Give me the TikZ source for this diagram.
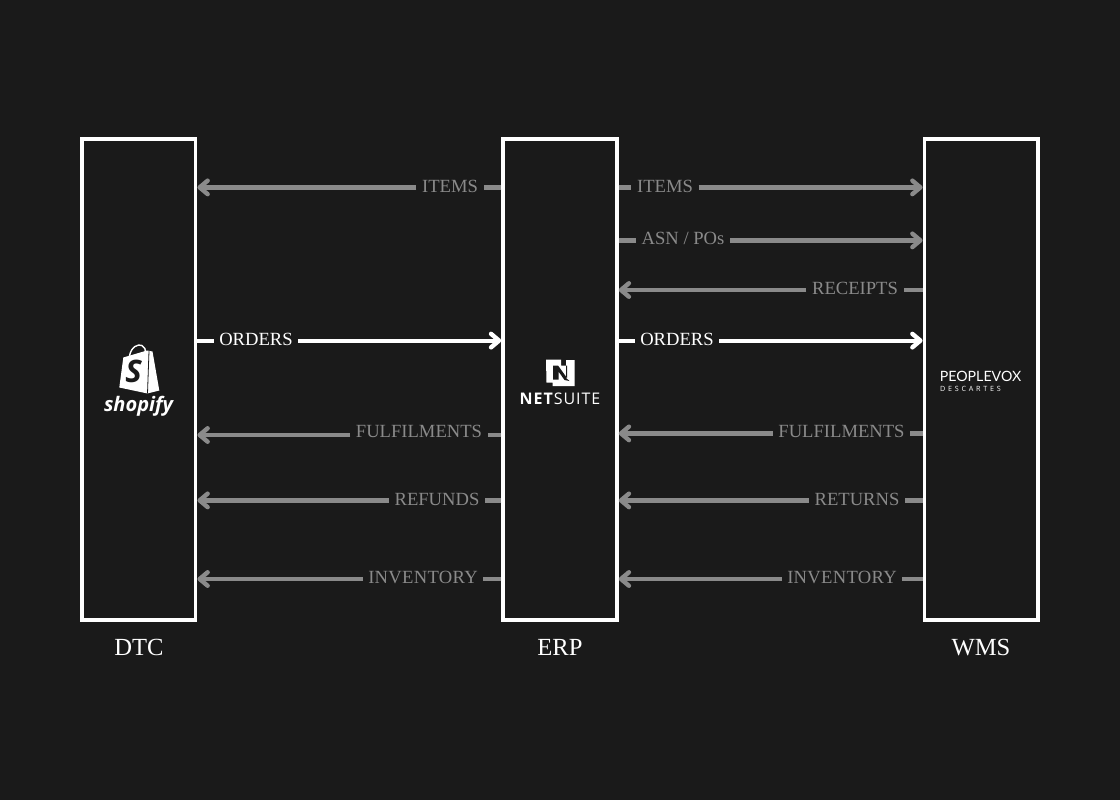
\documentclass[tikz,border=0pt]{standalone}
\usepackage{fontspec}
\setmainfont{Liberation Serif}
\newfontfamily\logofont{Open Sans}
\newfontfamily\voxfont{Lato}
\newfontfamily\descfont[LetterSpace=38]{Open Sans}
\newfontfamily\netfont[LetterSpace=6]{Open Sans}
\usetikzlibrary{arrows.meta}
\definecolor{bgc}{HTML}{1A1A1A}
\definecolor{flowgrey}{HTML}{8A8A8A}
\tikzset{
  system/.style={draw=white,line width=3.8pt,fill=bgc,minimum width=113.5pt,minimum height=481pt,outer sep=0pt,inner sep=0pt},
  caption/.style={text=white,font=\fontsize{24.6}{27}\selectfont,inner sep=0pt},
  flowlabel/.style={font=\fontsize{18.6}{20}\selectfont,inner xsep=5.5pt,inner ysep=2pt,text height=12.4pt,text depth=0pt},
  flowline/.style={line width=4.2pt},
  stub/.style={shorten <=1.9pt},
  barb/.style={-{Straight Barb[length=8pt,width=13.5pt,line width=4.4pt,round]},shorten >=2pt},
  muted/.style={draw=flowgrey,text=flowgrey},
  lit/.style={draw=white,text=white},
}
\begin{document}
\begin{tikzpicture}[x=1pt,y=-1pt]
\useasboundingbox (0,0) rectangle (1120,800);
\fill[bgc] (0,0) rectangle (1120,800);
\node[system] (dtc) at (138.7,379.7) {};
\node[system] (erp) at (560,379.7) {};
\node[system] (wms) at (981.3,379.7) {};
\node[caption] (dtccap) at (139,647.5) {DTC};
\node[caption] (erpcap) at (560,647.5) {ERP};
\node[caption] (wmscap) at (981,647.5) {WMS};
% rightward flows: source / target / line y / label x / label y / text / look
\foreach \a/\b/\y/\x/\ly/\t/\s [count=\i] in {
  erp/wms/187.4/665/186/ITEMS/muted,
  erp/wms/240.4/683/238/{ASN / POs}/muted,
  dtc/erp/340.6/256/339/ORDERS/lit,
  erp/wms/340.6/677/339/ORDERS/lit}{
  \coordinate (rr\i) at (0,\y);
  \node[flowlabel,\s,draw=none] (rl\i) at (\x,\ly) {\t};
  \draw[flowline,stub,\s] (\a.east |- rr\i) -- (rl\i.west |- rr\i);
  \draw[flowline,barb,\s] (rl\i.east |- rr\i) -- (\b.west |- rr\i);
}
% leftward flows
\foreach \a/\b/\y/\x/\ly/\t [count=\i] in {
  erp/dtc/187.4/450/186/ITEMS,
  erp/dtc/435/419/431/FULFILMENTS,
  erp/dtc/500.4/437/499/REFUNDS,
  erp/dtc/579/423/577/{\addfontfeature{LetterSpace=1.6}INVENTORY},
  wms/erp/290/855/288/RECEIPTS,
  wms/erp/433.4/841.5/431/FULFILMENTS,
  wms/erp/500.4/857/499/RETURNS,
  wms/erp/579/842/577/{\addfontfeature{LetterSpace=1.6}INVENTORY}}{
  \coordinate (ll\i) at (0,\y);
  \node[flowlabel,muted,draw=none] (lb\i) at (\x,\ly) {\t};
  \draw[flowline,stub,muted] (\a.west |- ll\i) -- (lb\i.east |- ll\i);
  \draw[flowline,barb,muted] (lb\i.west |- ll\i) -- (\b.east |- ll\i);
}
% Shopify logo
\fill[white] (123.3,357.5) -- (147,350.5) -- (152.5,351.5) -- (159.3,390.5) -- (147.5,393.5) -- (119.3,387.5) -- cycle;
\draw[bgc,line width=0.8pt] (149,351) -- (147.5,393.5);
\draw[white,line width=1.4pt] (129.5,356) .. controls (131,347) and (138,343.5) .. (142,345.5) .. controls (145,347) and (145.5,350) .. (145.5,352);
\node[text=bgc,inner sep=0pt,font=\logofont\bfseries\itshape\fontsize{31}{31}\selectfont] (shopS) at (133.5,371) {S};
\node[text=white,inner sep=0pt,font=\logofont\bfseries\itshape\fontsize{20}{22}\selectfont] (shopify) at (138.5,406) {shopify};
% NetSuite logo
\fill[white] (546,359.5) -- (561,359.5) -- (561,365.5) -- (566,365.5) -- (566,360) -- (574.5,360) -- (574.5,386) -- (552.5,386) -- (552.5,382.5) -- (546.5,382.5) -- cycle;
\fill[bgc] (553,365.5) -- (558,365.5) -- (567,378) -- (567,365.5) -- (566,365.5) -- (566,378) -- (569.5,381) -- (564.5,380) -- (558.5,371.5) -- (558.5,379.5) -- (553,379.5) -- cycle;
\node[text=white,inner sep=0pt,font=\netfont\fontsize{16}{17}\selectfont] (netsuite) at (560,398.5) {\textbf{NET}SUITE};
% Peoplevox logo
\node[text=white,inner sep=0pt,font=\voxfont\fontsize{14.2}{16}\selectfont] (vox) at (980.5,376) {PEOPLEVOX};
\node[text=white,inner sep=0pt,font=\descfont\fontsize{7.2}{8}\selectfont,anchor=west] (desc) at (940,389) {DESCARTES};
\end{tikzpicture}
\end{document}
